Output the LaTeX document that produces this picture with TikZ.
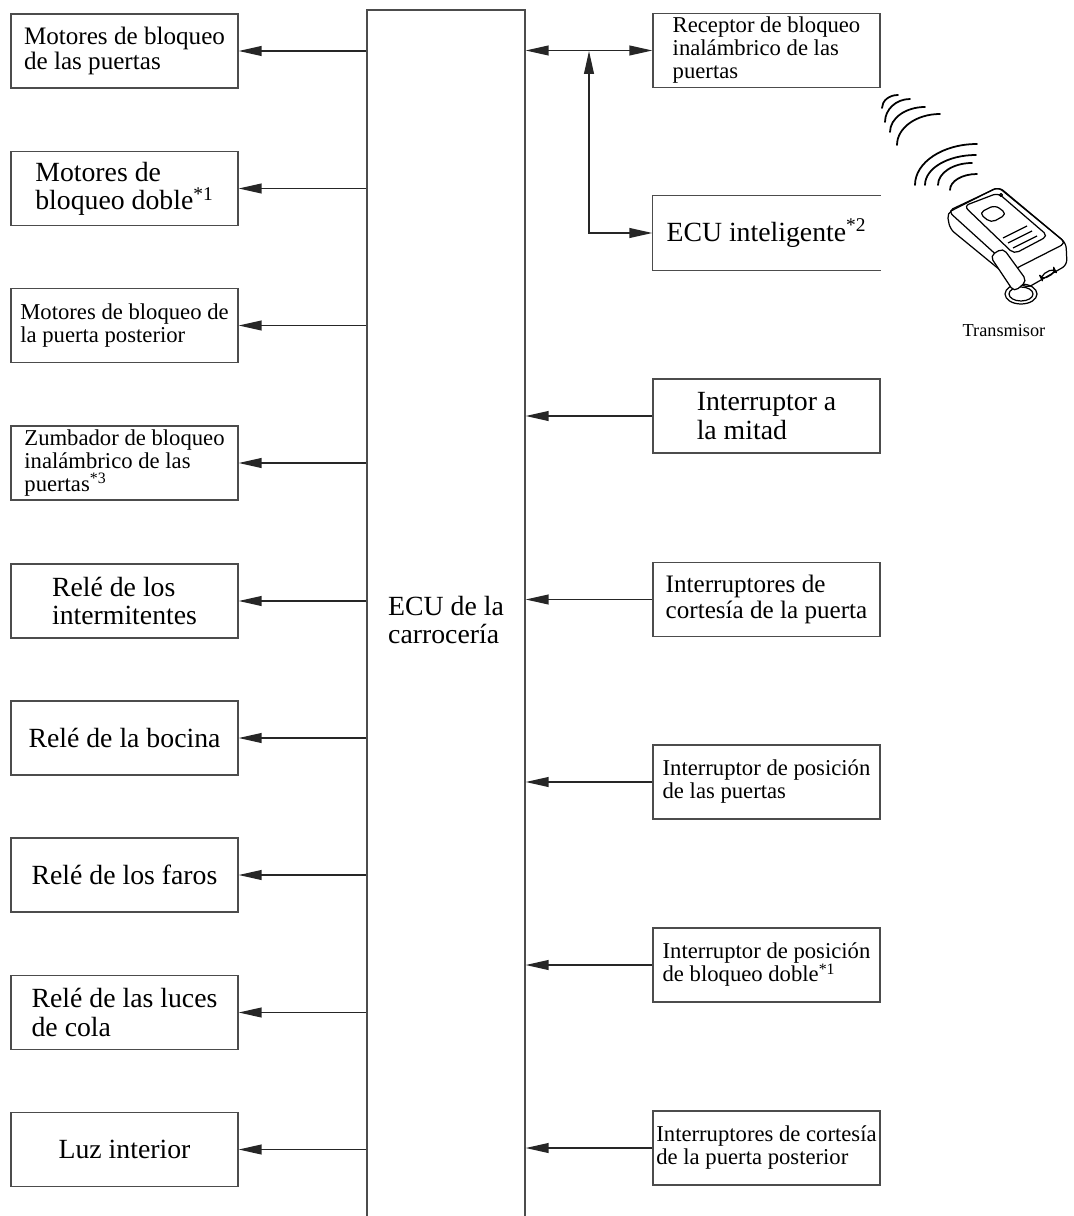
\documentclass[tikz,border=0pt]{standalone}
\usepackage{fontspec}
\setmainfont{Liberation Serif}
\usetikzlibrary{arrows.meta}
\tikzset{
  >={Triangle[length=13pt,width=5.6pt]},
  box/.style={draw=black!70, line width=0.8pt, minimum width=4.54cm,
              minimum height=1.48cm, align=left, inner sep=0pt},
  ecubox/.style={draw=black!70, line width=0.8pt, minimum width=3.16cm,
                 minimum height=24.4cm, align=left, inner sep=0pt},
  fbig/.style={font=\fontsize{15.8}{16}\selectfont},
  fmid/.style={font=\fontsize{14.3}{14.4}\selectfont},
  fsml/.style={font=\fontsize{12.9}{13.1}\selectfont},
  flow/.style={line width=0.7pt, black!85},
  wave/.style={line width=1pt, line cap=round},
  fob/.style={line width=0.7pt, rounded corners=3, line join=round}
}

\begin{document}
\begin{tikzpicture}[x=0.02cm, y=-0.02cm]
  \clip (0,0) rectangle (1074,1216);
  % body ECU, open at the bottom
  \node[ecubox, fbig] (ecu) at (446,620) {ECU de la\\carrocería};

  % outputs
  \node[box, fmid] (mot)    at (124.5,51)    {Motores de bloqueo\\de las puertas};
  \node[box, fbig] (dbl)    at (124.5,188.5) {Motores de\\bloqueo doble\textsuperscript{*1}};
  \node[box, fsml] (post)   at (124.5,325.5) {Motores de bloqueo de\\la puerta posterior};
  \node[box, fsml] (zumb)   at (124.5,463)   {Zumbador de bloqueo\\inalámbrico de las\\puertas\textsuperscript{*3}};
  \node[box, fbig] (interm) at (124.5,601)   {Relé de los\\intermitentes};
  \node[box, fbig] (bocina) at (124.5,738)   {Relé de la bocina};
  \node[box, fbig] (faros)  at (124.5,875)   {Relé de los faros};
  \node[box, fbig] (cola)   at (124.5,1012.5){Relé de las luces\\de cola};
  \node[box, fbig] (luz)    at (124.5,1149.5){Luz interior};

  % inputs
  \node[box, fsml] (rec)      at (766.5,50.5) {Receptor de bloqueo\\inalámbrico de las\\puertas};
  \node[box, fbig, draw=none] (intel) at (766.5,233) {ECU inteligente\textsuperscript{*2}};
  \node[box, fbig] (mitad)    at (766.5,416)  {Interruptor a\\la mitad};
  \node[box, fmid] (cort)     at (766.5,599.5){Interruptores de\\cortesía de la puerta};
  \node[box, fsml] (pos)      at (766.5,782)  {Interruptor de posición\\de las puertas};
  \node[box, fsml] (posdbl)   at (766.5,965)  {Interruptor de posición\\de bloqueo doble\textsuperscript{*1}};
  \node[box, fsml] (cortpost) at (766.5,1148) {Interruptores de cortesía\\de la puerta posterior};
  \draw[draw=black!70, line width=0.8pt] (intel.north east) -- (intel.north west)
    -- (intel.south west) -- (intel.south east);

  \foreach \n in {mot,dbl,post,zumb,interm,bocina,faros,cola,luz}
    \draw[flow, ->] (ecu.west |- \n.east) -- (\n.east);
  \foreach \n in {mitad,cort,pos,posdbl,cortpost}
    \draw[flow, ->] (\n.west) -- (ecu.east |- \n.west);

  % receiver link and smart ECU branch
  \coordinate (j) at (589,51);
  \draw[flow, <->] (ecu.east |- rec.west) -- (rec.west);
  \draw[flow, <->] (j) -- (j |- intel.west) -- (intel.west);

  % radio waves
  \foreach \cx/\cy/\rx/\ry in {898/108/16/13, 910/122/25/23, 925/132/35/25, 940/145/43/31,
                               977/185/62/41, 976/185/51/30, 972/185/34/22, 977/190/27/16}
    \draw[wave] (\cx-\rx,\cy) arc[start angle=180, end angle=270, x radius=\rx, y radius=\ry];

  % key fob
  \begin{scope}[fob]
    \draw[fill=white] (947,213) -- (998,187) -- (1066,243) -- (1067,265) -- (1027,288)
      -- (1000,270) -- (950,229) -- cycle;
    \draw (948,211) -- (999,187) -- (1066,243) -- (1013,270) -- cycle;
    \draw (964,206) -- (998,193) -- (1048,236) -- (1014,254) -- cycle;
    \draw (979,213) -- (995,205) -- (1007,214) -- (991,223) -- cycle;
    \draw (1003,238) -- (1027,226) (1008,243) -- (1032,231) (1013,248) -- (1037,236);
    \draw (1021,294) ellipse[x radius=16, y radius=10];
    \draw (1021,294) ellipse[x radius=12, y radius=7];
    \draw[fill=white] (990,256) -- (1003,248) -- (1027,281) -- (1014,292) -- cycle;
    \draw (1040,276) -- (1054,268) -- (1056,272) -- (1042,280) -- cycle;
    \draw (1001,195) circle[radius=1.5];
  \end{scope}
  \node[font=\fontsize{10.4}{11}\selectfont] (tx) at (1004,331) {Transmisor};
\end{tikzpicture}
\end{document}
